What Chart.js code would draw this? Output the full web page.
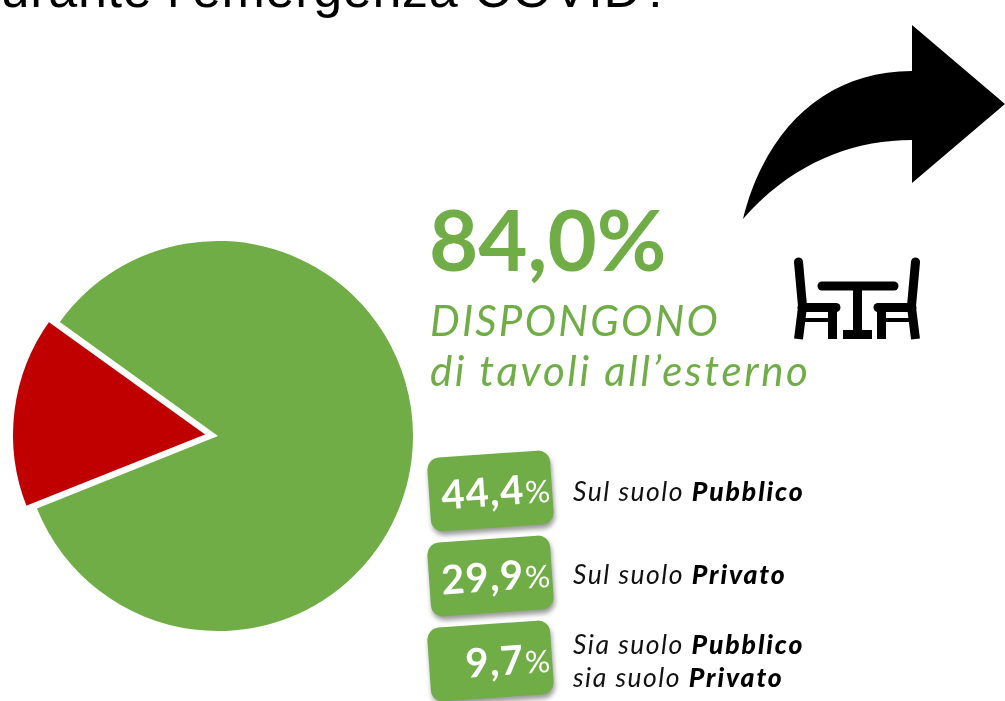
<!DOCTYPE html>
<html><head><meta charset="utf-8">
<script src="https://cdn.jsdelivr.net/npm/chart.js@4"></script>
<style>
html,body{margin:0;padding:0;background:#fff;width:1005px;height:701px;overflow:hidden}
body{position:relative;font-family:Lato,"Open Sans",sans-serif}
.t{position:absolute;white-space:nowrap;line-height:1}
#wrap{position:absolute;left:0;top:220px;width:436px;height:432px}
.badge{position:absolute;left:429px;width:123px;height:74px;border-radius:12px;background:#70AD47;transform:rotate(-4deg);box-shadow:1px 4px 5px rgba(0,0,0,.4);color:#fff}
.badge span{position:absolute;right:2px;bottom:17px;white-space:nowrap;line-height:1;font-weight:700;font-size:40px;letter-spacing:1px}
.badge small{font-size:31px;font-weight:400;letter-spacing:0;margin-left:1px}
.lab{position:absolute;left:573px;white-space:nowrap;line-height:1;font-size:26.5px;font-style:italic;color:#111;letter-spacing:1.5px}
.lab b{font-weight:900;color:#000;letter-spacing:1.9px}
.head{font-size:42px;font-style:italic;font-weight:400;color:#70AD47;letter-spacing:2.2px}
svg{position:absolute;left:0;top:0}
</style></head><body>
<div class="t" style="left:-29px;top:-37px;font-size:52px;font-family:'Liberation Sans';letter-spacing:.7px;color:#000">durante l’emergenza COVID?</div>
<div id="wrap"><canvas id="c" width="436" height="432"></canvas></div>
<div class="t" id="big" style="left:429px;top:196px;font-size:85px;font-weight:700;color:#70AD47"></div>
<div class="t head" id="l1" style="left:430px;top:299px"></div>
<div class="t head" id="l2" style="left:430px;top:349px;letter-spacing:2.65px"></div>
<svg width="1005" height="701" viewBox="0 0 1005 701">
<path d="M743 219 C765 130 825 71 912 71 L912 25 L1005 104 L912 183 L912 140 C850 140 790 165 743 219 Z" fill="#000"/>
<g fill="none" stroke="#000" stroke-width="9" stroke-linecap="round">
<path d="M798.5 262 L802.5 306"/><path d="M915.5 262 L911.5 306"/>
<path d="M802 307.5 L836 307.5"/><path d="M912 307.5 L878 307.5"/>
<path d="M822 286 L894 286"/>
</g>
<g fill="none" stroke="#000" stroke-width="9">
<path d="M802.5 307 L798.5 339"/><path d="M911.5 307 L915.5 339"/>
<path d="M832.5 309 L832.5 339"/><path d="M881.5 309 L881.5 339"/>
<path d="M857.5 286 L857.5 332"/>
</g>
<g fill="none" stroke="#000" stroke-width="4">
<path d="M803 320 L830 320"/><path d="M884 320 L911 320"/>
</g>
<rect x="843" y="330" width="29" height="9" fill="#000"/>
</svg>
<script>
const categories = ["Dispongono di tavoli all’esterno", "Non dispongono"];
const shareValues = [84.0, 16.0];
const sliceColors = ["#70AD47", "#C00000"];
const bigValue = "84,0%";
const headline = ["DISPONGONO", "di tavoli all’esterno"];
const subValues = ["44,4", "29,9", "9,7"];
const subLabels = [
  ["Sul suolo <b>Pubblico</b>"],
  ["Sul suolo <b>Privato</b>"],
  ["Sia suolo <b>Pubblico</b>", "sia suolo <b>Privato</b>"]
];
document.getElementById('big').textContent = bigValue;
document.getElementById('l1').textContent = headline[0];
document.getElementById('l2').textContent = headline[1];
const badgeTops = [454, 539, 624];
const labelTops = [[478],[561],[631,664]];
subValues.forEach((v,i)=>{
  const b=document.createElement('div');b.className='badge';b.style.top=badgeTops[i]+'px';
  b.innerHTML='<span>'+v+'<small>%</small></span>';document.body.appendChild(b);
  subLabels[i].forEach((s,j)=>{
    const d=document.createElement('div');d.className='lab';d.style.top=labelTops[i][j]+'px';d.innerHTML=s;document.body.appendChild(d);
  });
});
new Chart(document.getElementById('c'),{
  type:'pie',
  data:{labels:categories,datasets:[{data:shareValues,backgroundColor:sliceColors,
    borderWidth:[0,3],borderColor:'#fff',offset:[0,40],hoverOffset:0}]},
  options:{responsive:false,animation:false,radius:195,rotation:305.8,
    layout:{padding:0},events:[],
    plugins:{legend:{display:false},tooltip:{enabled:false}}}
});
</script>
</body></html>
